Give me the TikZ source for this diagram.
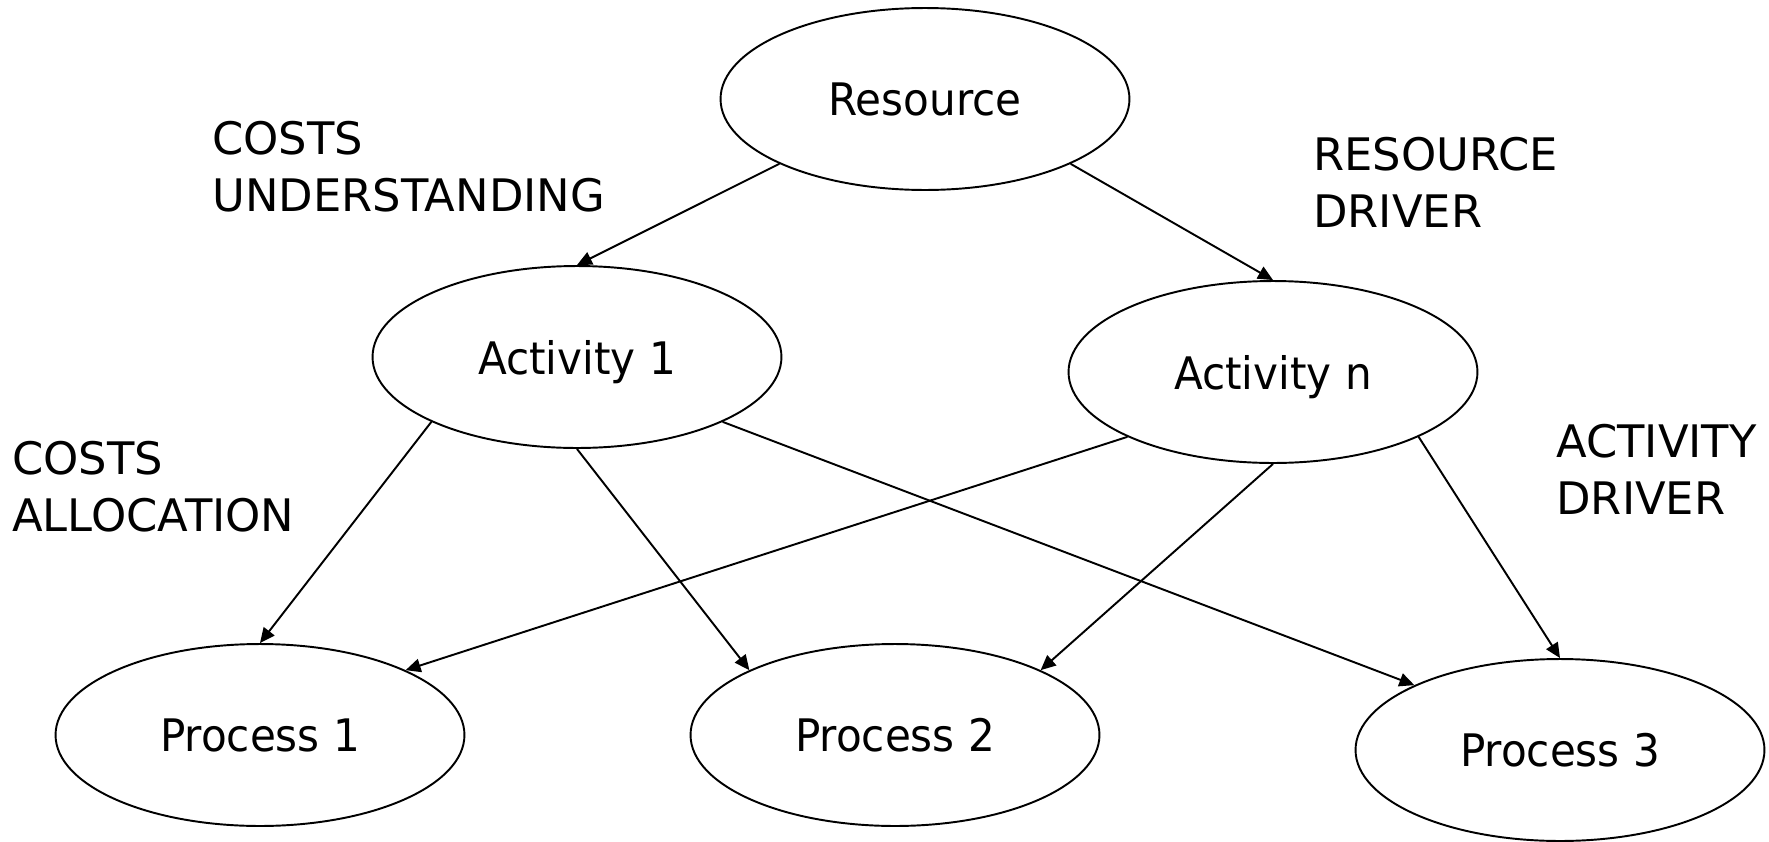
\documentclass[tikz,border=0pt]{standalone}
\usepackage{fontspec}
\setmainfont{DejaVu Sans}[FakeStretch=0.94]
\newfontfamily\captionfont{DejaVu Sans}
\usetikzlibrary{shapes.geometric,arrows.meta}

\begin{document}
\begin{tikzpicture}[x=0.02cm, y=-0.02cm,
    every node/.style={inner sep=0pt},
    oval/.style={ellipse, draw, line width=1.1pt, minimum width=8.18cm,
      minimum height=3.64cm, text depth=0pt,
      font=\fontsize{25.5}{30}\selectfont},
    lbl/.style={anchor=north west, align=left,
      font=\captionfont\fontsize{25.5}{32.6}\selectfont},
    link/.style={draw, line width=1.1pt,
      -{Triangle[length=0.3cm, width=0.27cm]}}]
  \useasboundingbox (0,0) rectangle (1769,842);

  % entities
  \node[oval] (res) at (925,99)  {Resource};
  \node[oval] (a1)  at (577,357) {Activity 1};
  \node[oval] (an)  at (1273,372) {Activity n};
  \node[oval] (p1)  at (260,735) {Process 1};
  \node[oval] (p2)  at (895,735) {Process 2};
  \node[oval] (p3)  at (1560,750) {Process 3};

  % side captions
  \node[lbl] (cu) at (212,121) {COSTS\\UNDERSTANDING};
  \node[lbl] (rd) at (1313,137) {RESOURCE\\DRIVER};
  \node[lbl] (ca) at (12,441) {COSTS\\ALLOCATION};
  \node[lbl] (ad) at (1556,424) {ACTIVITY\\DRIVER};

  % resource drivers
  \draw[link] (res.204) -- (a1.north);
  \draw[link] (res.336) -- (an.north);

  % activity drivers
  \draw[link] (a1.204) -- (p1.north);
  \draw[link] (a1.south) -- (p2.156);
  \draw[link] (a1.336) -- (p3.156);
  \draw[link] (an.204) -- (p1.24);
  \draw[link] (an.south) -- (p2.24);
  \draw[link] (an.336) -- (p3.north);
\end{tikzpicture}
\end{document}
